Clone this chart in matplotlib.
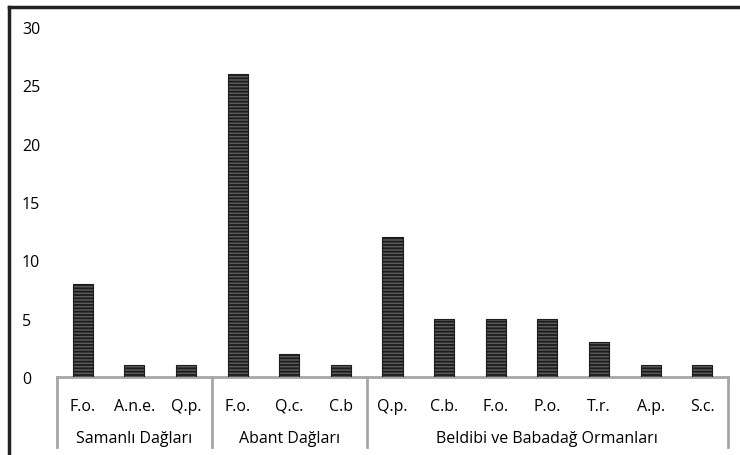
import matplotlib
matplotlib.use("Agg")
import matplotlib.pyplot as plt
from matplotlib.lines import Line2D
import numpy as np

plt.rcParams['font.family'] = ['Open Sans', 'DejaVu Sans']
plt.rcParams['hatch.linewidth'] = 1.3

species = ["F.o.", "A.n.e.", "Q.p.", "F.o.", "Q.c.", "C.b", "Q.p.", "C.b.", "F.o.", "P.o.", "T.r.", "A.p.", "S.c."]
values = [8, 1, 1, 26, 2, 1, 12, 5, 5, 5, 3, 1, 1]
groups = ["Samanlı Dağları", "Abant Dağları", "Beldibi ve Babadağ Ormanları"]
group_sizes = [3, 3, 7]
yticks = [0, 5, 10, 15, 20, 25, 30]

fig = plt.figure(figsize=(7.4, 4.56), dpi=100)
ax = fig.add_axes([57/740, (456-378)/456, (728-57)/740, 350/456])

x = np.arange(len(species))
ax.bar(x, values, width=0.39, color='#5a5a5a', edgecolor='#1c1c1c', linewidth=0.8,
       hatch='-----', zorder=3)

ax.set_xlim(-0.5, len(species) - 0.5)
ax.set_ylim(0, 30)
ax.set_yticks(yticks)
ax.set_yticklabels([str(t) for t in yticks], fontsize=11.5, ha='left')
ax.tick_params(axis='y', length=0, pad=25.2)
ax.set_xticks(x)
ax.set_xticklabels(species, fontsize=11.5)
ax.tick_params(axis='x', length=0, pad=15)

for s in ['top', 'right', 'left']:
    ax.spines[s].set_visible(False)
ax.spines['bottom'].set_color('#a6a6a6')
ax.spines['bottom'].set_linewidth(2)

# group separators and labels
bounds = np.concatenate([[0], np.cumsum(group_sizes)]) - 0.5
for b in bounds:
    ax.plot([b, b], [0, -6.0], color='#a6a6a6', lw=2, clip_on=False)
for i, g in enumerate(groups):
    c = (bounds[i] + bounds[i + 1]) / 2
    ax.text(c, -5.2, g, ha='center', va='center', fontsize=11.5, clip_on=False)

# outer chart border (left and top)
fig.add_artist(Line2D([9/740, 9/740], [0, 1 - 8/456], transform=fig.transFigure, color='#222222', lw=2.5))
fig.add_artist(Line2D([9/740, 1], [1 - 8/456, 1 - 8/456], transform=fig.transFigure, color='#222222', lw=2.5))

fig.savefig("out.png", dpi=100)
